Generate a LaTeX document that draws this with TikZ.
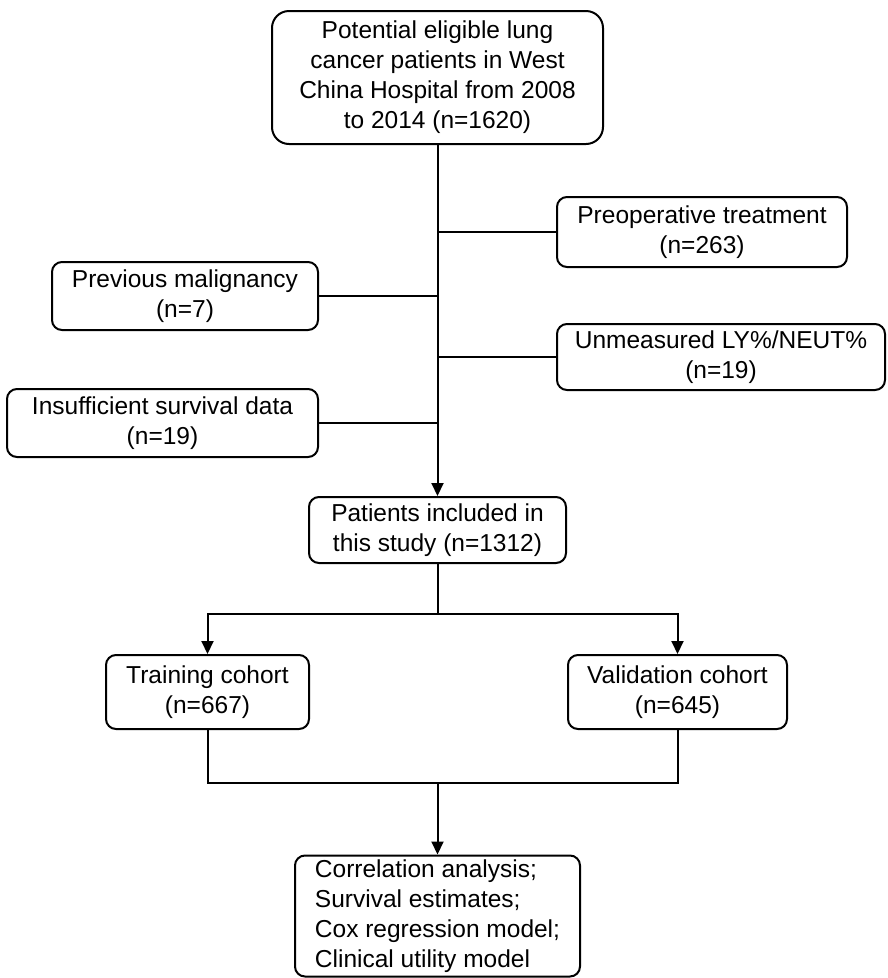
\documentclass[tikz,border=0pt]{standalone}
\usepackage{fontspec}
\setmainfont{Liberation Sans}
\usetikzlibrary{arrows.meta}

\begin{document}
\begin{tikzpicture}[x=1pt, y=-1pt,
    flowbox/.style={draw, line width=2pt, rounded corners=10pt, align=center, inner sep=0pt,
        font=\fontsize{24.5}{30}\selectfont},
    flowline/.style={line width=2pt},
    flowarrow/.style={line width=2pt, -{Triangle[length=13pt, width=12pt]}}]
    \useasboundingbox (0,0) rectangle (888,978);

    % main boxes
    \node[flowbox, rounded corners=17pt, minimum width=331pt, minimum height=133pt] (eligible) at (437.5,77.5)
        {Potential eligible lung\\cancer patients in West\\China Hospital from 2008\\to 2014 (n=1620)};
    \node[flowbox, minimum width=257pt, minimum height=66pt] (included) at (437.5,530)
        {Patients included in\\this study (n=1312)};

    % excluded boxes
    \node[flowbox, minimum width=290pt, minimum height=70pt] (preop) at (702,232)
        {Preoperative treatment\\(n=263)};
    \node[flowbox, minimum width=266pt, minimum height=68pt] (malign) at (185,296)
        {Previous malignancy\\(n=7)};
    \node[flowbox, minimum width=328pt, minimum height=66pt] (unmeas) at (721,357)
        {Unmeasured LY\%/NEUT\%\\(n=19)};
    \node[flowbox, minimum width=311pt, minimum height=68pt] (insuff) at (162.5,423)
        {Insufficient survival data\\(n=19)};

    % cohorts
    \node[flowbox, minimum width=203pt, minimum height=74pt] (train) at (207.5,692)
        {Training cohort\\(n=667)};
    \node[flowbox, minimum width=219pt, minimum height=74pt] (valid) at (677.5,692)
        {Validation cohort\\(n=645)};

    % analyses
    \node[flowbox, align=left, minimum width=285pt, minimum height=121pt] (analysis) at (437.5,916)
        {Correlation analysis;\\Survival estimates;\\Cox regression model;\\Clinical utility model};

    % trunk and exclusions
    \draw[flowarrow] (eligible.south) -- (included.north);
    \draw[flowline] (eligible.south |- preop.west) -- (preop.west);
    \draw[flowline] (eligible.south |- malign.east) -- (malign.east);
    \draw[flowline] (eligible.south |- unmeas.west) -- (unmeas.west);
    \draw[flowline] (eligible.south |- insuff.east) -- (insuff.east);

    % split into cohorts
    \coordinate (split) at (437.5,614);
    \draw[flowline] (included.south) -- (split);
    \draw[flowarrow] (split) -| (train.north);
    \draw[flowarrow] (split) -| (valid.north);

    % merge into analyses
    \coordinate (merge) at (437.5,783);
    \draw[flowline] (train.south) |- (merge) -| (valid.south);
    \draw[flowarrow] (merge) -- (analysis.north);

\end{tikzpicture}
\end{document}
